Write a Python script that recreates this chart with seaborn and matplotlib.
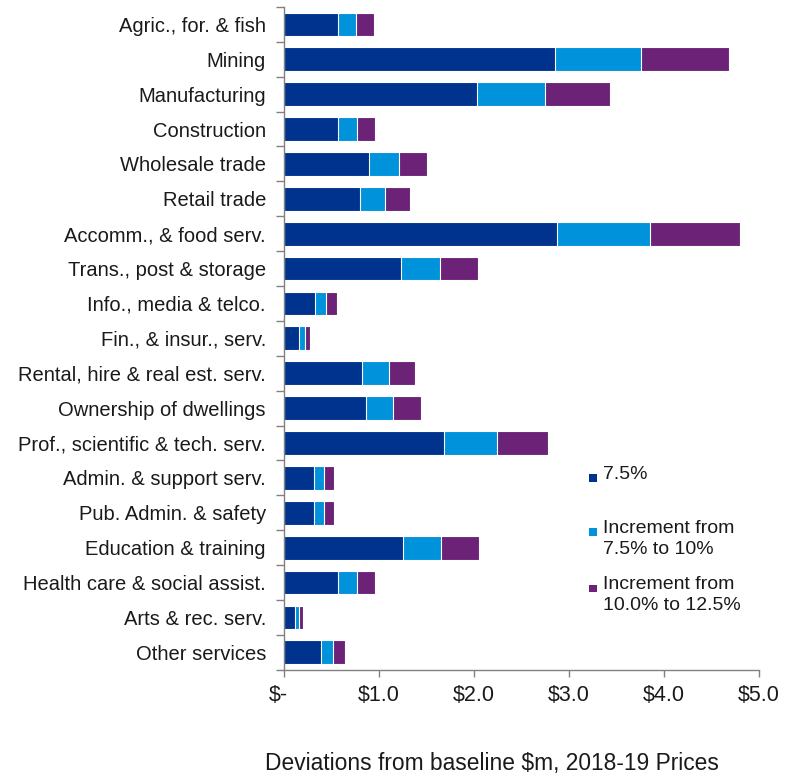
import numpy as np
import pandas as pd
import matplotlib
matplotlib.use("Agg")
import matplotlib.pyplot as plt
import matplotlib.transforms as mtransforms
from matplotlib.patches import Rectangle
import seaborn as sns

# Industry categories (top to bottom)
industries = [
    "Agric., for. & fish",
    "Mining",
    "Manufacturing",
    "Construction",
    "Wholesale trade",
    "Retail trade",
    "Accomm., & food serv.",
    "Trans., post & storage",
    "Info., media & telco.",
    "Fin., & insur., serv.",
    "Rental, hire & real est. serv.",
    "Ownership of dwellings",
    "Prof., scientific & tech. serv.",
    "Admin. & support serv.",
    "Pub. Admin. & safety",
    "Education & training",
    "Health care & social assist.",
    "Arts & rec. serv.",
    "Other services",
]

# Deviations from baseline, $m (2018-19 prices)
rate_7_5 = [0.57, 2.85, 2.03, 0.57, 0.90, 0.80, 2.88, 1.235, 0.33, 0.16,
            0.825, 0.86, 1.68, 0.32, 0.315, 1.25, 0.57, 0.12, 0.385]
inc_7_5_to_10 = [0.19, 0.91, 0.72, 0.20, 0.31, 0.265, 0.97, 0.41, 0.115, 0.065,
                 0.28, 0.29, 0.565, 0.10, 0.11, 0.40, 0.20, 0.04, 0.135]
inc_10_to_12_5 = [0.19, 0.93, 0.68, 0.19, 0.295, 0.265, 0.95, 0.40, 0.11, 0.05,
                  0.27, 0.29, 0.54, 0.105, 0.10, 0.40, 0.19, 0.04, 0.125]

series_labels = ["7.5%", "Increment from\n7.5% to 10%", "Increment from\n10.0% to 12.5%"]
series_colors = ["#00338D", "#0093DB", "#6C2277"]

x_ticks = [0, 1, 2, 3, 4, 5]
x_tick_labels = ["$-", "$1.0", "$2.0", "$3.0", "$4.0", "$5.0"]

df = pd.DataFrame({
    "industry": industries,
    "s1": rate_7_5,
    "s2": inc_7_5_to_10,
    "s3": inc_10_to_12_5,
})
df["c1"] = df["s1"]
df["c2"] = df["s1"] + df["s2"]
df["c3"] = df["c2"] + df["s3"]

sns.set_theme(style="white")
plt.rcParams["font.family"] = ["Liberation Sans", "DejaVu Sans"]

fig = plt.figure(figsize=(7.9, 7.74), dpi=100)
ax = fig.add_axes([0.3595, 0.1347, 0.6009, 0.8563])

# Stacked horizontal bars: draw cumulative totals from the outermost inwards
for col, color in zip(["c3", "c2", "c1"], series_colors[::-1]):
    sns.barplot(data=df, x=col, y="industry", order=industries, orient="h",
                color=color, saturation=1, width=0.68, edgecolor="white",
                linewidth=0.8, ax=ax)

ax.set_xlim(0, 5)
ax.set_ylim(len(industries) - 0.5, -0.5)

ax.set_xticks(x_ticks)
ax.set_xticklabels(x_tick_labels, fontsize=15.5, color="#1a1a1a")
ax.tick_params(axis="x", which="major", direction="out", length=5, width=1,
               color="#808080", pad=6, bottom=True)
# the zero label sits slightly left of its tick
zero_label = ax.get_xticklabels()[0]
zero_label.set_transform(zero_label.get_transform() +
                         mtransforms.ScaledTranslation(-6 / 100, 0, fig.dpi_scale_trans))

ax.set_yticks(np.arange(len(industries)))
ax.set_yticklabels(industries, fontsize=14.5, color="#1a1a1a")
ax.tick_params(axis="y", which="major", length=0, pad=13)
ax.set_yticks(np.arange(-0.5, len(industries), 1), minor=True)
ax.tick_params(axis="y", which="minor", direction="out", length=6, width=1,
               color="#808080", left=True)

for side in ["top", "right"]:
    ax.spines[side].set_visible(False)
for side in ["left", "bottom"]:
    ax.spines[side].set_color("#808080")
    ax.spines[side].set_linewidth(1.0)

ax.set_ylabel("")
ax.set_xlabel("Deviations from baseline $m, 2018-19 Prices", fontsize=16.4,
              color="#1a1a1a")
ax.xaxis.set_label_coords(0.438, -0.1245)
ax.grid(False)

# Legend: square swatch beside the first line of each label
legend_tops = [0.3985, 0.3285, 0.2560]
for label, color, top in zip(series_labels, series_colors, legend_tops):
    fig.text(0.7633, top, label, fontsize=14, va="top", ha="left",
             color="#1a1a1a", linespacing=1.32)
    fig.add_artist(Rectangle((0.7455, top - 0.0215), 0.0101, 0.0103,
                             transform=fig.transFigure, facecolor=color,
                             edgecolor="none"))

fig.savefig("out.png", dpi=100)
